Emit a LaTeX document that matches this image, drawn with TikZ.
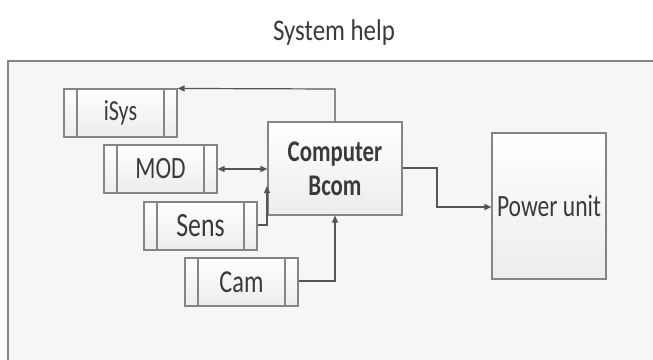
\documentclass[tikz,border=0pt]{standalone}
\usepackage{fontspec}
\setmainfont{Carlito}[FakeStretch=0.76]
\newfontfamily\titlefont{Carlito}[FakeStretch=0.83]
\usetikzlibrary{arrows.meta,shadows,calc}
\definecolor{txt}{HTML}{3A3A3A}
\definecolor{edge}{HTML}{858585}
\definecolor{wire}{HTML}{555555}
\definecolor{bg}{HTML}{F5F6F6}
\definecolor{boxlow}{HTML}{ECECEC}
\tikzset{
  boxbase/.style={draw=edge, line width=1.1pt, inner sep=0pt, text=txt,
    top color=white, bottom color=boxlow,
    drop shadow={shadow xshift=1.2pt, shadow yshift=-1.2pt, opacity=0.25, fill=gray}},
  procbox/.style={boxbase, minimum width=113pt, minimum height=48pt,
    path picture={
      \draw[edge, line width=1.1pt]
        ([xshift=13pt]path picture bounding box.north west) --
        ([xshift=13pt]path picture bounding box.south west)
        ([xshift=-13pt]path picture bounding box.north east) --
        ([xshift=-13pt]path picture bounding box.south east);}},
  wirestyle/.style={draw=wire, line width=1.2pt, -{Triangle[length=7pt,width=6pt]}},
  biwire/.style={draw=wire, line width=1.2pt, {Triangle[length=7pt,width=6pt]}-{Triangle[length=7pt,width=6pt]}}
}
\begin{document}
\begin{tikzpicture}[x=1pt,y=-1pt]
\useasboundingbox (0,0) rectangle (653,359);
\clip (0,0) rectangle (653,359);
\fill[white] (0,0) rectangle (653,359);
\draw[edge, line width=1.2pt, fill=bg] (8,61) rectangle (700,420);
\node[text=txt, font=\titlefont\fontsize{30}{33}\selectfont] (title) at (334,33) {System help};

\node[procbox, font=\fontsize{29}{31}\selectfont] (isys) at (120.5,113) {iSys};
\node[procbox, font=\fontsize{31}{33}\selectfont] (mod) at (160.5,169) {MOD};
\node[procbox, font=\fontsize{34}{36}\selectfont] (sens) at (200.5,226) {Sens};
\node[procbox, font=\fontsize{32}{34}\selectfont] (cam) at (241.5,282) {Cam};

\node[boxbase, minimum width=134pt, minimum height=93pt, align=center,
  font=\bfseries\fontsize{30}{34}\selectfont] (comp) at (335,168.5) {Computer\\Bcom};
\node[boxbase, minimum width=114pt, minimum height=146pt,
  font=\fontsize{31}{33}\selectfont, text depth=0pt] (power) at (549,206) {Power unit};

\coordinate (topturn) at (335,89);
\draw[wirestyle] (comp.north) -- (topturn) -- (isys.north east);
\draw[biwire] (mod.east) -- (comp.west |- mod.east);
\coordinate (sensturn) at (267,225);
\coordinate (senstip) at (267,186);
\draw[wirestyle] (sens.east |- sensturn) -- (sensturn) -- (senstip);
\coordinate (camturn) at (335,281);
\draw[wirestyle] (cam.east |- camturn) -- (camturn) -- (comp.south);
\coordinate (pwa) at (437,168);
\coordinate (pwb) at (437,207);
\draw[wirestyle] (comp.east |- pwa) -- (pwa) -- (pwb) -- (power.west |- pwb);
\end{tikzpicture}
\end{document}
